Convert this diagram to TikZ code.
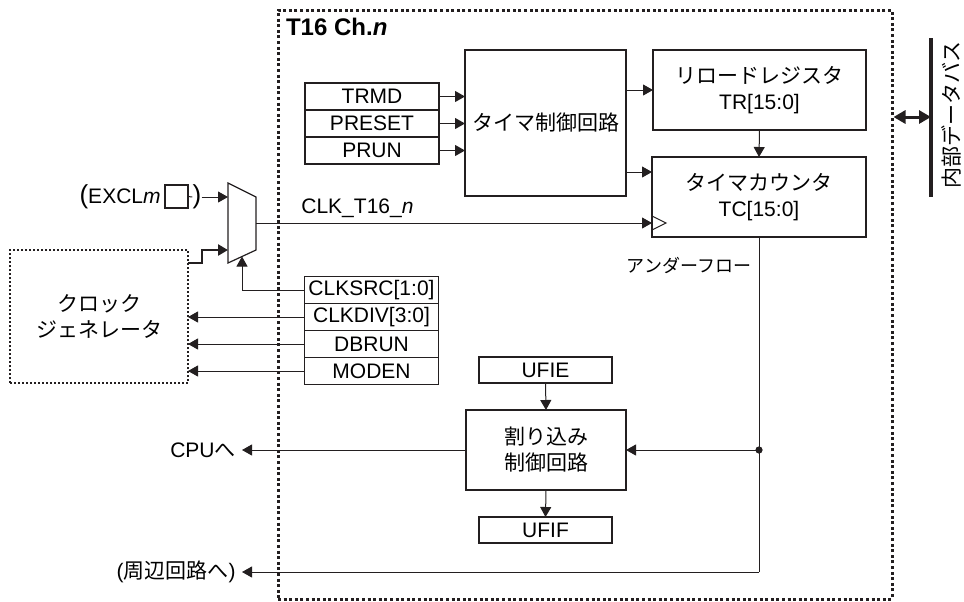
\documentclass[tikz,border=0pt]{standalone}
\usepackage{fontspec}
\setmainfont{Liberation Sans}
\newfontfamily\jp{Noto Sans CJK JP}
\usepackage{tikz}
\usetikzlibrary{arrows.meta,calc,positioning}
\definecolor{cizgiRengi}{HTML}{231F20}

\begin{document}
\begin{tikzpicture}[x=0.5pt,y=-0.5pt,
  font=\fontsize{10.5}{13}\selectfont,
  kutu/.style={draw=cizgiRengi,line width=0.6pt,inner sep=0pt,outer sep=0pt,align=center},
  yazmac/.style={kutu,minimum width=67pt,minimum height=13.5pt},
  ok/.style={draw=cizgiRengi,line width=0.5pt,-{Triangle[length=5pt,width=5.5pt]}},
  hat/.style={draw=cizgiRengi,line width=0.5pt}]
\useasboundingbox (0,0) rectangle (964,601);
% kanal cercevesi ve veri yolu
\node[draw=cizgiRengi,line width=1.5pt,dash pattern=on 1.5pt off 1.3pt,inner sep=0pt,
  minimum width=307pt,minimum height=294.5pt] (kanal) at (585,304.5) {};
\node[anchor=west,font=\fontsize{12}{14}\selectfont\bfseries] (baslik) at (279,27) {T16 Ch.\textit{n}};
\coordinate (busUst) at (931,38);
\coordinate (busAlt) at (931,197);
\coordinate (busBag) at (931,117);
\draw[cizgiRengi,line width=2.2pt] (busUst) -- (busAlt);
\draw[cizgiRengi,line width=1.5pt,{Triangle[length=6pt,width=6.5pt]}-{Triangle[length=6pt,width=6.5pt]}] (busBag -| kanal.east) -- (busBag);
\node[rotate=90] (busAdi) at (951,115) {\jp 内部データバス};
% zamanlayici bloklari
\node[kutu,minimum width=80.5pt,minimum height=73pt] (ctrl) at (545.5,123) {\jp タイマ制御回路};
\node[kutu,minimum width=106.5pt,minimum height=40pt] (tr) at (759.5,90) {{\jp リロードレジスタ}\\TR[15:0]};
\node[kutu,minimum width=107pt,minimum height=40pt] (tc) at (759,197) {{\jp タイマカウンタ}\\TC[15:0]};
\node[yazmac] (trmd) at (372,96.5) {TRMD};
\node[yazmac,below=0pt of trmd] (preset) {PRESET};
\node[yazmac,below=0pt of preset] (prun) {PRUN};
\foreach \r in {trmd,preset,prun}
  \draw[ok] (\r.east) -- (\r.east -| ctrl.west);
\draw[ok] (tr.west -| ctrl.east) -- (tr.west);
\coordinate (tcGiris) at ($(tc.north west)+(0,15)$);
\draw[ok] (tcGiris -| ctrl.east) -- (tcGiris);
\draw[ok] (tr.south) -- (tc.north);
\draw[hat] ($(tc.south west)+(0,-21)$) -- ++(14,7) -- ++(-14,7);
% saat secici
\coordinate (muxA) at (228,183);
\coordinate (muxB) at (256,197);
\coordinate (muxC) at (256,250);
\coordinate (muxD) at (228,263);
\coordinate (muxG1) at (228,197);
\coordinate (muxG2) at (228,250);
\coordinate (muxSec) at (242,256.5);
\coordinate (muxCik) at (256,223);
\draw[cizgiRengi,line width=0.6pt] (muxA) -- (muxB) -- (muxC) -- (muxD) -- cycle;
\draw[ok] (muxCik) -- (muxCik -| tc.west);
\node[anchor=south west,inner sep=0pt] (clkAdi) at (301,218) {CLK\_T16\_\textit{n}};
\node[anchor=east,inner sep=0pt] (excl) at (161,197) {{\fontsize{13}{13}\selectfont(}EXCL\textit{m}};
\node[kutu,minimum size=11.5pt] (pin) at (176.5,196.5) {};
\node[inner sep=0pt] (kapa) at (197,197) {\fontsize{13}{13}\selectfont)};
\draw[hat] (pin.east) -- (kapa.west);
\draw[ok] (kapa.east) -- (muxG1);
\node[kutu,line width=0.7pt,dash pattern=on 0.8pt off 1.2pt,minimum width=89pt,minimum height=66.5pt] (clkgen) at (99,316.5) {{\jp クロック}\\{\jp ジェネレータ}};
\draw[cizgiRengi,line width=1.3pt,-{Triangle[length=5pt,width=5.5pt]}] ($(clkgen.north east)+(0,13)$) -- ++(14,0) |- (muxG2);
\node[yazmac] (clksrc) at (371.5,290) {CLKSRC[1:0]};
\node[yazmac,below=0pt of clksrc] (clkdiv) {CLKDIV[3:0]};
\node[yazmac,below=0pt of clkdiv] (dbrun) {DBRUN};
\node[yazmac,below=0pt of dbrun] (moden) {MODEN};
\draw[ok] (clksrc.west) -| (muxSec);
\foreach \r in {clkdiv,dbrun,moden}
  \draw[ok] (\r.west) -- (\r.west -| clkgen.east);
% kesme kismi
\node[yazmac,minimum width=66.5pt,minimum height=13pt] (ufie) at (545.5,370) {UFIE};
\node[kutu,minimum width=80pt,minimum height=40pt] (intc) at (546,450) {{\jp 割り込み}\\{\jp 制御回路}};
\node[yazmac,minimum width=66.5pt,minimum height=13pt] (ufif) at (545.5,530) {UFIF};
\draw[ok] (ufie.south) -- (intc.north);
\draw[ok] (intc.south) -- (ufif.north);
\node[font=\fontsize{9}{11}\selectfont\jp] (alttasma) at (689,265) {アンダーフロー};
\coordinate (nokta) at (tc.south |- intc.east);
\coordinate (cevre) at (242,572);
\draw[hat] (tc.south) -- (tc.south |- cevre);
\fill[cizgiRengi] (nokta) circle (1.8pt);
\draw[ok] (nokta) -- (intc.east);
\draw[ok] (intc.west) -- (intc.west -| cevre);
\draw[ok] (tc.south |- cevre) -- (cevre);
\node[anchor=east,inner sep=0pt] (cpu) at (236,450) {CPU{\jp へ}};
\node[anchor=east,inner sep=0pt] (cevreYazi) at (236,572) {({\jp 周辺回路へ})};
\end{tikzpicture}
\end{document}
